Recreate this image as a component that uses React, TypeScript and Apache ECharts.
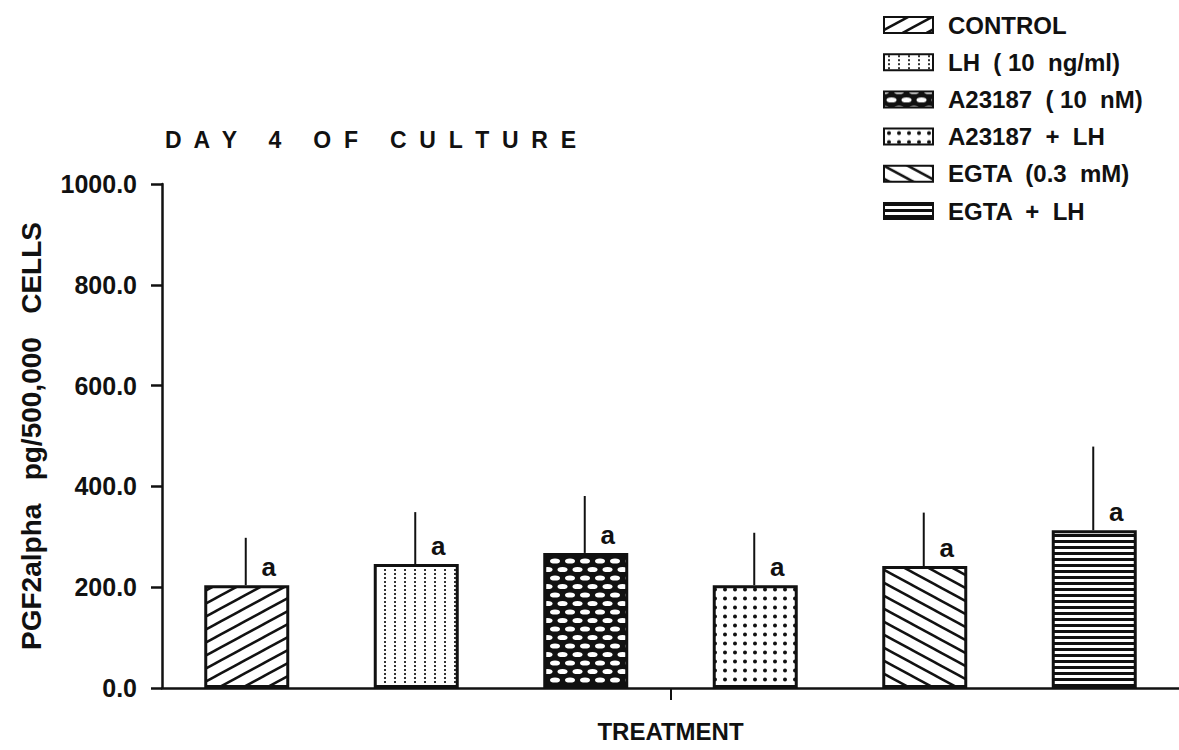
import React, { useEffect, useRef } from 'react';
import * as echarts from 'echarts';

const FONT = '"Liberation Sans", Arial, Helvetica, sans-serif';
const INK = '#111111';

// ---- data ----
const categories = [
  'CONTROL',
  'LH  ( 10  ng/ml)',
  'A23187  ( 10  nM)',
  'A23187  +  LH',
  'EGTA  (0.3  mM)',
  'EGTA  +  LH',
];
const means = [204, 246, 268, 204, 242, 313];
const sems = [94, 103, 113, 104, 106, 166];
const sigLetters = ['a', 'a', 'a', 'a', 'a', 'a'];
const yMin = 0;
const yMax = 1000;
const yStep = 200;

type Draw = (ctx: CanvasRenderingContext2D, w: number, h: number) => void;

function tile(w: number, h: number, draw: Draw) {
  const c = document.createElement('canvas');
  c.width = w;
  c.height = h;
  const ctx = c.getContext('2d')!;
  ctx.fillStyle = '#ffffff';
  ctx.fillRect(0, 0, w, h);
  ctx.fillStyle = INK;
  ctx.strokeStyle = INK;
  draw(ctx, w, h);
  return { image: c.toDataURL(), repeat: 'repeat', imageWidth: w, imageHeight: h } as any;
}

function makePatterns() {
  const slashUp = tile(24, 13, (ctx, w, h) => {
    ctx.lineWidth = 2.5;
    for (const dx of [-w, 0, w]) {
      ctx.beginPath();
      ctx.moveTo(-w + dx, 2 * h);
      ctx.lineTo(2 * w + dx, -h);
      ctx.stroke();
    }
  });
  const vDots = tile(10, 4, (ctx) => {
    ctx.fillStyle = '#333';
    ctx.fillRect(4, 1, 2, 2);
  });
  const mesh = tile(15, 17, (ctx, w, h) => {
    ctx.fillRect(0, 0, w, h);
    ctx.fillStyle = '#ffffff';
    const pts = [[0, 0], [w, 0], [0, h], [w, h], [w / 2, h / 2]];
    for (const [x, y] of pts) {
      ctx.beginPath();
      ctx.ellipse(x, y, 5, 2.6, 0, 0, Math.PI * 2);
      ctx.fill();
    }
  });
  const dots = tile(10, 9, (ctx) => {
    ctx.beginPath();
    ctx.arc(5, 4.5, 2, 0, Math.PI * 2);
    ctx.fill();
  });
  const slashDown = tile(24, 13, (ctx, w, h) => {
    ctx.lineWidth = 2.5;
    for (const dx of [-w, 0, w]) {
      ctx.beginPath();
      ctx.moveTo(-w + dx, -h);
      ctx.lineTo(2 * w + dx, 2 * h);
      ctx.stroke();
    }
  });
  const horiz = tile(4, 6, (ctx) => {
    ctx.fillRect(0, 0, 4, 3);
  });
  return [slashUp, vDots, mesh, dots, slashDown, horiz];
}

export default function App() {
  const ref = useRef<HTMLDivElement>(null);

  useEffect(() => {
    if (!ref.current) return;
    const chart = echarts.init(ref.current, null, { renderer: 'svg' });
    const patterns = makePatterns();

    const barSeries = categories.map((name, i) => ({
      name,
      type: 'bar',
      stack: 'all',
      barWidth: 85,
      data: [[i + 0.5, means[i]]],
      itemStyle: { color: patterns[i], borderColor: INK, borderWidth: 3 },
      emphasis: { disabled: true },
    }));

    chart.setOption({
      animation: false,
      backgroundColor: '#ffffff',
      title: {
        text: 'D  A  Y     4     O  F     C  U  L  T  U  R  E',
        left: 160,
        top: 123,
        textStyle: { fontFamily: FONT, fontSize: 23, fontWeight: 'bold', color: INK },
      },
      legend: {
        data: categories,
        orient: 'vertical',
        left: 878,
        top: 8,
        icon: 'rect',
        itemWidth: 49,
        itemHeight: 16,
        itemGap: 13.2,
        textStyle: {
          fontFamily: FONT,
          fontSize: 24,
          fontWeight: 'bold',
          color: INK,
          padding: [0, 0, 0, 10],
        },
        selectedMode: false,
      },
      grid: { left: 162, top: 184, width: 1025, height: 504 },
      xAxis: {
        type: 'value',
        min: 0,
        max: 6,
        axisLine: { show: true, lineStyle: { color: INK, width: 2.5 } },
        axisTick: { show: true, customValues: [3], length: 12, lineStyle: { color: INK, width: 2 } },
        axisLabel: { show: false },
        splitLine: { show: false },
        name: 'TREATMENT',
        nameLocation: 'middle',
        nameGap: 31,
        nameTextStyle: { fontFamily: FONT, fontSize: 24, fontWeight: 'bold', color: INK },
      },
      yAxis: {
        type: 'value',
        min: yMin,
        max: yMax,
        interval: yStep,
        offset: 4,
        axisLine: { show: true, lineStyle: { color: INK, width: 2.5 } },
        axisTick: { show: true, length: 11, lineStyle: { color: INK, width: 2.5 } },
        axisLabel: {
          formatter: (v: number) => v.toFixed(1),
          fontFamily: FONT,
          fontSize: 25,
          fontWeight: 'bold',
          color: INK,
          margin: 21,
        },
        splitLine: { show: false },
        name: 'PGF2alpha   pg/500,000   CELLS',
        nameLocation: 'middle',
        nameGap: 113,
        nameTextStyle: { fontFamily: FONT, fontSize: 28, fontWeight: 'bold', color: INK },
      },
      series: [
        ...barSeries,
        {
          type: 'custom',
          z: 10,
          data: means.map((m, i) => [i + 0.5, m, sems[i], i]),
          renderItem: (params: any, api: any) => {
            const base = api.coord([api.value(0), api.value(1)]);
            const top = api.coord([api.value(0), api.value(1) + api.value(2)]);
            return {
              type: 'group',
              children: [
                {
                  type: 'line',
                  shape: { x1: base[0] - 1, y1: base[1], x2: base[0] - 1, y2: top[1] },
                  style: { stroke: INK, lineWidth: 2 },
                },
                {
                  type: 'text',
                  style: {
                    text: sigLetters[api.value(3)],
                    x: base[0] + 22,
                    y: base[1] - 18,
                    align: 'center',
                    verticalAlign: 'middle',
                    font: `bold 26px ${FONT}`,
                    fill: INK,
                  },
                },
              ],
            };
          },
        },
      ],
    } as any);

    return () => chart.dispose();
  }, []);

  return (
    <>
      <style>{`svg text { white-space: pre; }`}</style>
      <div
        ref={ref}
        style={{ position: 'absolute', left: 0, top: 0, width: 1179, height: 750, background: '#fff' }}
      />
    </>
  );
}
